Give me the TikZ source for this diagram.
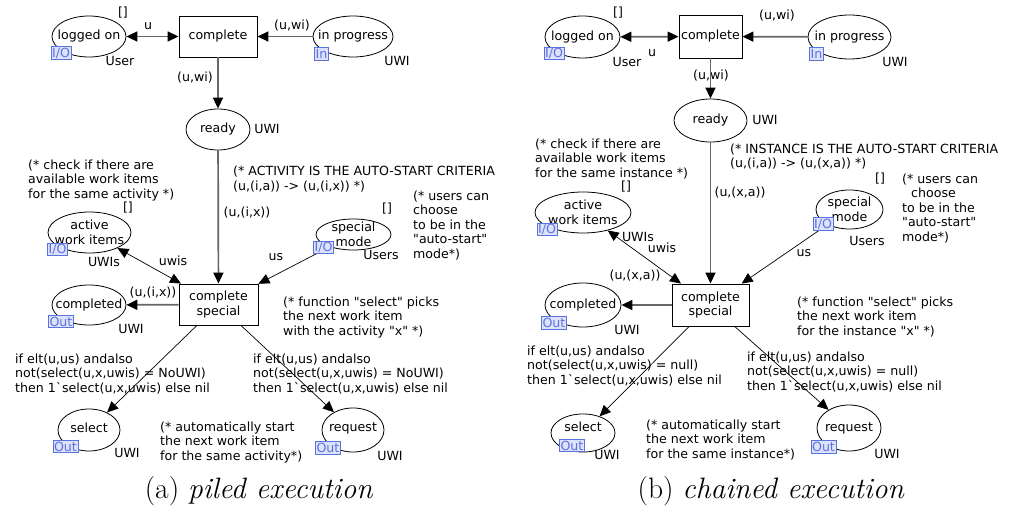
\documentclass[tikz,border=0pt]{standalone}
\usepackage{fontspec}
\newfontfamily\dv{DejaVu Sans}
\usetikzlibrary{arrows.meta,shapes.geometric}
\definecolor{tagblue}{HTML}{5A72E0}
\definecolor{tagfill}{HTML}{DDE2FA}
\definecolor{arcgray}{HTML}{666666}
\begin{document}
\begin{tikzpicture}[x=1pt,y=-1pt,
  every node/.style={font=\dv\fontsize{12.6}{14.5}\selectfont, inner sep=0pt},
  place/.style={draw, ellipse, line width=0.8pt},
  trans/.style={draw, rectangle, line width=0.9pt},
  tag/.style={draw=tagblue, fill=tagfill, text=tagblue, inner xsep=1pt, inner ysep=0.5pt, line width=0.8pt, minimum height=12.5},
  cmt/.style={align=left, anchor=north west},
  ctext/.style={align=center},
  heavyarc/.style={draw=arcgray, line width=1.7pt},
  lightarc/.style={draw=black, line width=0.7pt},
  arr/.style={-{Triangle[length=11pt,width=10pt,black]}},
  darr/.style={{Triangle[length=11pt,width=10pt,black]}-{Triangle[length=11pt,width=10pt,black]}},
  capt/.style={font=\rmfamily\fontsize{29.5}{34}\selectfont, anchor=base},
]
\useasboundingbox (0,0) rectangle (1018,513);

% ================= panel (a) =================
\node[place, minimum width=74, minimum height=41] (lo1) at (89,36.5) {};
\node (lo1t) at (lo1) {logged on};
\node (lo1m) at (123,13) {[]};
\node (lo1c) at (120,61) {User};
\node[trans, minimum width=78, minimum height=41] (c1) at (218,36.5) {complete};
\node[place, minimum width=80, minimum height=41] (ip1) at (353,36.5) {};
\node (ip1t) at (ip1) {in progress};
\node (ip1c) at (397,61) {UWI};
\node (l1u) at (148,26) {u};
\node (l1uwi) at (292,26) {(u,wi)};
\node (l1uwi2) at (195,78) {(u,wi)};
\node[place, minimum width=64, minimum height=41] (rd1) at (218,129.5) {};
\node (rd1t) at (rd1) {ready};
\node (rd1c) at (267,129) {UWI};
\node[cmt] (k1a) at (233,166) {(* ACTIVITY IS THE AUTO-START CRITERIA\\(u,(i,a)) -> (u,(i,x)) *)};
\node (l1uix) at (247,212.7) {(u,(i,x))};
\node[place, minimum width=75, minimum height=31] (sm1) at (353.5,234.5) {};
\node[ctext] (sm1t) at (sm1) {special\\mode};
\node (sm1m) at (387,209) {[]};
\node (sm1c) at (381,255) {Users};
\node (l1us) at (276,257) {us};
\node[cmt] (k1b) at (413,190.3) {(* users can\\choose\\to be in the\\"auto-start"\\mode*)};
\node[cmt] (k1c) at (28,159.3) {(* check if there are\\available work items\\for the same activity *)};
\node[place, minimum width=83, minimum height=41] (aw1) at (89.5,232.5) {};
\node[ctext] (aw1t) at (aw1) {active\\work items};
\node (aw1m) at (128,208) {[]};
\node (aw1c) at (104,262) {UWIs};
\node (l1uwis) at (173,261) {uwis};
\node (l1uix2) at (153,293) {(u,(i,x))};
\node[trans, minimum width=79, minimum height=41, align=center] (cs1) at (218.5,304.5) {complete\\special};
\node[place, minimum width=74, minimum height=40] (cp1) at (89,305) {};
\node (cp1t) at (cp1) {completed};
\node (cp1c) at (131,329) {UWI};
\node[cmt] (g1a) at (15,353.3) {if elt(u,us) andalso\\not(select(u,x,uwis) = NoUWI)\\then 1`select(u,x,uwis) else nil};
\node[cmt] (g1b) at (253,353.3) {if elt(u,us) andalso\\not(select(u,x,uwis) = NoUWI)\\then 1`select(u,x,uwis) else nil};
\node[cmt] (k1d) at (283,296.3) {(* function "select" picks\\the next work item\\with the activity "x" *)};
\node[place, minimum width=62, minimum height=42] (sel1) at (89,430) {};
\node (sel1t) at (89,428) {select};
\node (sel1c) at (127,453) {UWI};
\node[cmt] (k1e) at (160,421.3) {(* automatically start\\the next work item\\for the same activity*)};
\node[place, minimum width=62, minimum height=44] (rq1) at (353,430) {};
\node (rq1t) at (353,428) {request};
\node (rq1c) at (390,456) {UWI};

\draw[heavyarc, darr] (lo1) -- (c1);
\draw[heavyarc, arr] (ip1) -- (c1);
\draw[heavyarc, arr] (c1) -- (rd1);
\draw[heavyarc, arr] (rd1) -- (cs1);
\draw[heavyarc, arr] (cs1) -- (cp1);
\draw[lightarc, darr] (aw1) -- (cs1);
\draw[lightarc, arr] (sm1) -- (cs1);
\draw[lightarc, arr] (cs1) -- (sel1);
\draw[lightarc, arr] (cs1) -- (rq1);

\node[tag] (lo1g) at (61,53) {I/O};
\node[tag] (ip1g) at (321.5,54) {In};
\node[tag] (sm1g) at (323.5,247.5) {I/O};
\node[tag] (aw1g) at (57.5,249.5) {I/O};
\node[tag] (cp1g) at (61,321.5) {Out};
\node[tag] (sel1g) at (65.5,446.5) {Out};
\node[tag] (rq1g) at (328,448) {Out};

\node[capt] (capa) at (259,498) {(a) \textit{piled execution}};

% ================= panel (b) =================
\node[place, minimum width=75, minimum height=42] (lo2) at (582.5,37) {};
\node (lo2t) at (lo2) {logged on};
\node (lo2m) at (618,13) {[]};
\node (lo2c) at (627,62) {User};
\node (l2u) at (652,53) {u};
\node[trans, minimum width=63, minimum height=43] (c2) at (710.5,36.5) {complete};
\node[place, minimum width=83, minimum height=44] (ip2) at (849.5,37) {};
\node (ip2t) at (ip2) {in progress};
\node (ip2c) at (895,62) {UWI};
\node (l2uwi) at (777,16) {(u,wi)};
\node (l2uwi2) at (711,76) {(u,wi)};
\node[place, minimum width=73, minimum height=43] (rd2) at (710.5,120.5) {};
\node (rd2t) at (rd2) {ready};
\node (rd2c) at (765,120) {UWI};
\node[cmt] (k2a) at (730,143.3) {(* INSTANCE IS THE AUTO-START CRITERIA\\(u,(i,a)) -> (u,(x,a)) *)};
\node[cmt] (k2c) at (535,138.3) {(* check if there are\\available work items\\for the same instance *)};
\node[place, minimum width=96, minimum height=41] (aw2) at (583,212.5) {};
\node[ctext] (aw2t) at (aw2) {active\\work items};
\node (aw2m) at (626,187) {[]};
\node (aw2c) at (638,237) {UWIs};
\node (l2uwis) at (662,248) {uwis};
\node (l2uxa) at (635,276) {(u,(x,a))};
\node (l2uxa2) at (740,193) {(u,(x,a))};
\node[place, minimum width=67, minimum height=39] (sm2) at (849.5,209.5) {};
\node[ctext] (sm2t) at (sm2) {special\\mode};
\node (sm2m) at (880,179) {[]};
\node (sm2c) at (867,241) {Users};
\node (l2us) at (804,253) {us};
\node[cmt] (k2b) at (902,173.3) {(* users can\\\hspace*{9pt}choose\\to be in the\\"auto-start"\\mode*)};
\node[trans, minimum width=77, minimum height=42, align=center] (cs2) at (710.5,305) {complete\\special};
\node[place, minimum width=76, minimum height=44] (cp2) at (583,305) {};
\node (cp2t) at (cp2) {completed};
\node (cp2c) at (627,330) {UWI};
\node[cmt] (g2a) at (527,345.3) {if elt(u,us) andalso\\not(select(u,x,uwis) = null)\\then 1`select(u,x,uwis) else nil};
\node[cmt] (g2b) at (747,351.3) {if elt(u,us) andalso\\not(select(u,x,uwis) = null)\\then 1`select(u,x,uwis) else nil};
\node[cmt] (k2d) at (797,296.3) {(* function "select" picks\\the next work item\\for the instance "x" *)};
\node[place, minimum width=64, minimum height=38] (sel2) at (583,433) {};
\node (sel2t) at (583,427) {select};
\node (sel2c) at (607,455) {UWI};
\node[cmt] (k2e) at (646,419.3) {(* automatically start\\the next work item\\for the same instance*)};
\node[place, minimum width=64, minimum height=46] (rq2) at (849,428) {};
\node (rq2t) at (rq2) {request};
\node (rq2c) at (887,454) {UWI};

\draw[heavyarc, darr] (lo2) -- (c2);
\draw[heavyarc, arr] (ip2) -- (c2);
\draw[heavyarc, arr] (c2) -- (rd2);
\draw[heavyarc, arr] (rd2) -- (cs2);
\draw[heavyarc, arr] (cs2) -- (cp2);
\draw[lightarc, darr] (aw2) -- (cs2);
\draw[lightarc, arr] (sm2) -- (cs2);
\draw[lightarc, arr] (cs2) -- (sel2);
\draw[lightarc, arr] (cs2) -- (rq2);

\node[tag] (lo2g) at (554,53.5) {I/O};
\node[tag] (ip2g) at (816.5,54) {In};
\node[tag] (sm2g) at (823,224) {I/O};
\node[tag] (aw2g) at (547,229.5) {I/O};
\node[tag] (cp2g) at (554,323) {Out};
\node[tag] (sel2g) at (572,445.5) {Out};
\node[tag] (rq2g) at (823.5,447) {Out};

\node[capt] (capb) at (771,498) {(b) \textit{chained execution}};
\end{tikzpicture}
\end{document}
